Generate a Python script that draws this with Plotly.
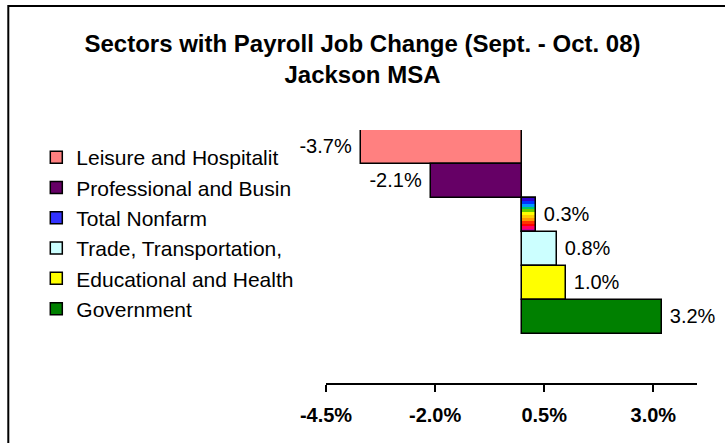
import plotly.graph_objects as go

categories = ["Leisure and Hospitalit", "Professional and Busin", "Total Nonfarm",
              "Trade, Transportation,", "Educational and Health", "Government"]
values = [-3.7, -2.1, 0.3, 0.8, 1.0, 3.2]
colors = ["#FF8080", "#660066", "#3333FF", "#CCFFFF", "#FFFF00", "#008000"]
rainbow = ["#3300CC", "#0033FF", "#0099FF", "#00CC66", "#66CC00", "#FFFF00",
           "#FFCC00", "#FF9900", "#FF3300", "#FF0000", "#FF0066", "#CC0099"]
tick_vals = [-4.5, -2.0, 0.5, 3.0]
tick_text = ["-4.5%", "-2.0%", "0.5%", "3.0%"]

W, H = 725, 443
L, R, T, B = 325.7, 696.7, 130, 383
FONT = "Liberation Sans, Arial"


def label(v):
    s = f"{v:.1f}%"
    return s + "\u00a0" if v < 0 else "\u00a0" + s


fig = go.Figure()
for c, v, col in zip(categories, values, colors):
    if c == "Total Nonfarm":
        n = len(rainbow)
        fig.add_trace(go.Bar(
            y=[c], x=[v], orientation="h", name=c, legendgroup=c,
            marker=dict(color=col, line=dict(color="black", width=1.5)),
            showlegend=True, hoverinfo="skip"))
        fig.add_trace(go.Bar(
            y=[c] * n, x=[v] * n, orientation="h", legendgroup=c,
            width=[1.0 / n] * n,
            offset=[-0.5 + k / n for k in range(n)],
            marker=dict(color=rainbow, line=dict(width=0)),
            showlegend=False, hoverinfo="skip"))
        fig.add_trace(go.Bar(
            y=[c], x=[v], orientation="h", legendgroup=c,
            marker=dict(color="rgba(0,0,0,0)", line=dict(color="black", width=1.5)),
            text=[label(v)], textposition="outside", cliponaxis=False,
            textfont=dict(family=FONT, size=20, color="black"),
            showlegend=False))
    else:
        fig.add_trace(go.Bar(
            y=[c], x=[v], orientation="h", name=c, legendgroup=c,
            marker=dict(color=col, line=dict(color="black", width=1.5)),
            text=[label(v)], textposition="outside", cliponaxis=False,
            textfont=dict(family=FONT, size=20, color="black")))

fig.update_layout(
    width=W, height=H,
    margin=dict(l=L, r=W - R, t=T, b=H - B, pad=0),
    paper_bgcolor="white", plot_bgcolor="white",
    barmode="overlay", bargap=0,
    font=dict(family=FONT, color="black"),
    title=dict(text="<b>Sectors with Payroll Job Change (Sept. - Oct. 08)<br>Jackson MSA</b>",
               x=0.5, xanchor="center", xref="container",
               y=1 - 52 / H, yanchor="top", yref="container",
               font=dict(size=24, family=FONT, color="black")),
    xaxis=dict(range=[-4.5, 4.0], tickvals=tick_vals, ticktext=tick_text,
               showgrid=False, zeroline=False, showline=True, linecolor="black",
               linewidth=1.5, ticks="outside", ticklen=7, tickwidth=1.5, tickcolor="black",
               tickfont=dict(size=20, family=FONT, color="black", weight="bold"),
               ticklabelstandoff=6),
    yaxis=dict(range=[6.94, -0.5], visible=False, categoryorder="array",
               categoryarray=categories),
    legend=dict(x=(36 - L) / (R - L), xanchor="left", y=(B - 137) / (B - T), yanchor="top",
                font=dict(size=21, family=FONT, color="black"),
                bgcolor="rgba(0,0,0,0)", tracegroupgap=4, traceorder="normal"),
    showlegend=True,
)

fig.add_shape(type="rect", xref="paper", yref="paper",
              x0=(8 - L) / (R - L), x1=(740 - L) / (R - L),
              y0=(B - 460) / (B - T), y1=(B - 6) / (B - T),
              line=dict(color="black", width=2), fillcolor="rgba(0,0,0,0)", layer="below")

fig.write_html("out.html", config={"displayModeBar": False},
               post_script="document.body.style.margin='0px';")
